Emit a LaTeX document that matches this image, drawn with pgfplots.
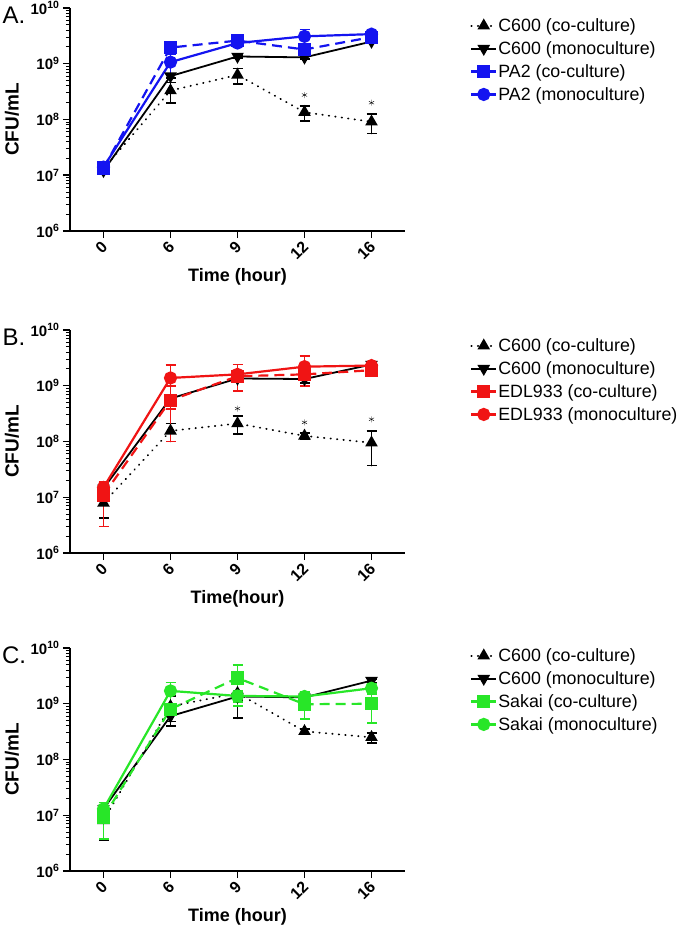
\documentclass[border=0pt]{standalone}
\usepackage{pgfplots}
\pgfplotsset{compat=1.18}
\usepackage{fontspec}
\setmainfont{Liberation Sans}
\definecolor{pblue}{RGB}{20,20,240}
\definecolor{pred}{RGB}{240,20,20}
\definecolor{pgreen}{RGB}{40,230,40}
\pgfplotsset{
  every axis plot post/.append style={legend image code/.code={\draw[mark repeat=2,mark phase=2] plot coordinates {(0pt,0pt) (12.5pt,0pt) (25pt,0pt)};}},
  every axis/.append style={
    scale only axis, width=335pt, height=223pt,
    xmin=-0.5, xmax=4.5,
    axis lines=left, axis line style={-, line width=1.8pt},
    xtick={0,1,2,3,4}, xticklabels={0,6,9,12,16},
    tick align=outside, major tick length=7pt, minor tick length=4pt,
    tick style={line width=1.5pt, black}, minor tick style={line width=1pt},
    y tick label style={font=\fontsize{15}{15}\selectfont\bfseries},
    x tick label style={rotate=45, anchor=east, yshift=-5pt, font=\fontsize{16}{16}\selectfont\bfseries},
    ylabel style={at={(axis description cs:-0.173,0.5)}, anchor=center, font=\fontsize{19}{19}\selectfont\bfseries},
    xlabel style={at={(axis description cs:0.5,-0.206)}, anchor=center, font=\fontsize{18}{18}\selectfont\bfseries},
    legend style={anchor=north west, draw=none, fill=none,
      font=\fontsize{17.8}{17.8}\selectfont, row sep=6.5pt, nodes={inner sep=1pt}},
    legend cell align=left,
  },
  ebar/.style={error bars/y dir=both, error bars/y explicit, error bars/error bar style={solid, line width=1.8pt}, error bars/error mark options={rotate=90, mark size=5pt, line width=1.8pt, solid}},
  coco/.style={black, line width=1.8pt, dash pattern=on 0.5pt off 6pt, line cap=round, mark=triangle*, mark size=5.5pt, mark options={solid}, ebar},
  mono/.style={black, line width=1.8pt, mark=triangle*, mark size=5.5pt, mark options={solid, rotate=180}, ebar},
  sco/.style={#1, line width=2.2pt, dash pattern=on 10pt off 6pt, mark=square*, mark size=5.5pt, mark options={solid}, ebar},
  smono/.style={#1, line width=2.2pt, mark=*, mark size=5.5pt, mark options={solid}, ebar},
}
\begin{document}
\begin{tikzpicture}
\useasboundingbox (0pt,0pt) rectangle (680pt,-930pt);
\node[font=\fontsize{24}{24}\selectfont] at (14pt,-15pt) {A.};
\node[font=\fontsize{24}{24}\selectfont] at (14pt,-337pt) {B.};
\node[font=\fontsize{24}{24}\selectfont] at (14pt,-655pt) {C.};

% ---------------- A
\begin{semilogyaxis}[at={(70pt,-231pt)}, anchor=south west, ymin=1e6, ymax=1e10,
  legend style={at={(1.185,0.967)}},
  ytick={1e6,1e7,1e8,1e9,1e10},
  yticklabels={\textbf{10\textsuperscript{6}},\textbf{10\textsuperscript{7}},\textbf{10\textsuperscript{8}},\textbf{10\textsuperscript{9}},\textbf{10\textsuperscript{10}}},
  xlabel={Time (hour)}, ylabel={CFU/mL}]
\addplot[coco] coordinates {(0,1.3e7) +- (0,1.5e6) (1,3.3e8) +- (0,1.3e8) (2,6.3e8) +- (0,1.9e8) (3,1.35e8) +- (0,4e7) (4,9.1e7) +- (0,3.5e7)};
\addlegendentry{C600 (co-culture)}
\addplot[mono] coordinates {(0,1.2e7) +- (0,1e6) (1,6.0e8) +- (0,5e7) (2,1.35e9) +- (0,1e8) (3,1.3e9) +- (0,1e8) (4,2.5e9) +- (0,1e8)};
\addlegendentry{C600 (monoculture)}
\addplot[sco=pblue] coordinates {(0,1.35e7) +- (0,1.5e6) (1,1.95e9) +- (0,2e8) (2,2.6e9) +- (0,3e8) (3,1.8e9) +- (0,2e8) (4,3.0e9) +- (0,2e8)};
\addlegendentry{PA2 (co-culture)}
\addplot[smono=pblue] coordinates {(0,1.4e7) +- (0,1.5e6) (1,1.07e9) +- (0,4e8) (2,2.35e9) +- (0,3e8) (3,3.1e9) +- (0,1.0e9) (4,3.4e9) +- (0,2e8)};
\addlegendentry{PA2 (monoculture)}
\addplot[only marks, mark=asterisk, mark size=3pt, black, thin, forget plot] coordinates {(3,2.75e8) (4,2.0e8)};
\end{semilogyaxis}

% ---------------- B
\begin{semilogyaxis}[at={(70pt,-553pt)}, anchor=south west, ymin=1e6, ymax=1e10,
  legend style={at={(1.185,0.976)}},
  ytick={1e6,1e7,1e8,1e9,1e10},
  yticklabels={\textbf{10\textsuperscript{6}},\textbf{10\textsuperscript{7}},\textbf{10\textsuperscript{8}},\textbf{10\textsuperscript{9}},\textbf{10\textsuperscript{10}}},
  xlabel={Time(hour)}, ylabel={CFU/mL}]
\addplot[coco] coordinates {(0,7.9e6) +- (0,3.6e6) (1,1.55e8) +- (0,5.5e7) (2,2.1e8) +- (0,7.5e7) (3,1.26e8) +- (0,1.5e7) (4,9.5e7) +- (0,5.8e7)};
\addlegendentry{C600 (co-culture)}
\addplot[mono] coordinates {(0,1.45e7) +- (0,2e6) (1,5.9e8) +- (0,5e7) (2,1.35e9) +- (0,2e8) (3,1.32e9) +- (0,2e8) (4,2.4e9) +- (0,3e8)};
\addlegendentry{C600 (monoculture)}
\addplot[sco=pred] coordinates {(0,1.1e7) +- (0,8e6) (1,5.5e8) +- (0,4.5e8) (2,1.48e9) +- (0,2e8) (3,1.6e9) +- (0,3e8) (4,1.9e9) +- (0,3e8)};
\addlegendentry{EDL933 (co-culture)}
\addplot[smono=pred] coordinates {(0,1.5e7) +- (0,3e6) (1,1.38e9) +- (0,1.0e9) (2,1.6e9) +- (0,8e8) (3,2.2e9) +- (0,1.2e9) (4,2.3e9) +- (0,3e8)};
\addlegendentry{EDL933 (monoculture)}
\addplot[only marks, mark=asterisk, mark size=3pt, black, thin, forget plot] coordinates {(2,3.9e8) (3,2.2e8) (4,2.5e8)};
\end{semilogyaxis}

% ---------------- C
\begin{semilogyaxis}[at={(70pt,-871pt)}, anchor=south west, ymin=1e6, ymax=1e10,
  legend style={at={(1.185,1.012)}},
  ytick={1e6,1e7,1e8,1e9,1e10},
  yticklabels={\textbf{10\textsuperscript{6}},\textbf{10\textsuperscript{7}},\textbf{10\textsuperscript{8}},\textbf{10\textsuperscript{9}},\textbf{10\textsuperscript{10}}},
  xlabel={Time (hour)}, ylabel={CFU/mL}]
\addplot[coco] coordinates {(0,8.1e6) +- (0,4.5e6) (1,9.0e8) +- (0,5e8) (2,1.55e9) +- (0,1.0e9) (3,3.2e8) +- (0,3e7) (4,2.5e8) +- (0,5e7)};
\addlegendentry{C600 (co-culture)}
\addplot[mono] coordinates {(0,1.3e7) +- (0,2e6) (1,6.0e8) +- (0,1.2e8) (2,1.35e9) +- (0,2e8) (3,1.3e9) +- (0,1e8) (4,2.6e9) +- (0,2e8)};
\addlegendentry{C600 (monoculture)}
\addplot[sco=pgreen] coordinates {(0,9.3e6) +- (0,5.5e6) (1,8.0e8) +- (0,1.5e8) (2,2.9e9) +- (0,2e9) (3,9.8e8) +- (0,4.5e8) (4,1.0e9) +- (0,5.5e8)};
\addlegendentry{Sakai (co-culture)}
\addplot[smono=pgreen] coordinates {(0,1.3e7) +- (0,4e6) (1,1.7e9) +- (0,7e8) (2,1.38e9) +- (0,3e8) (3,1.35e9) +- (0,2.5e8) (4,1.9e9) +- (0,4e8)};
\addlegendentry{Sakai (monoculture)}
\end{semilogyaxis}
\end{tikzpicture}
\end{document}
